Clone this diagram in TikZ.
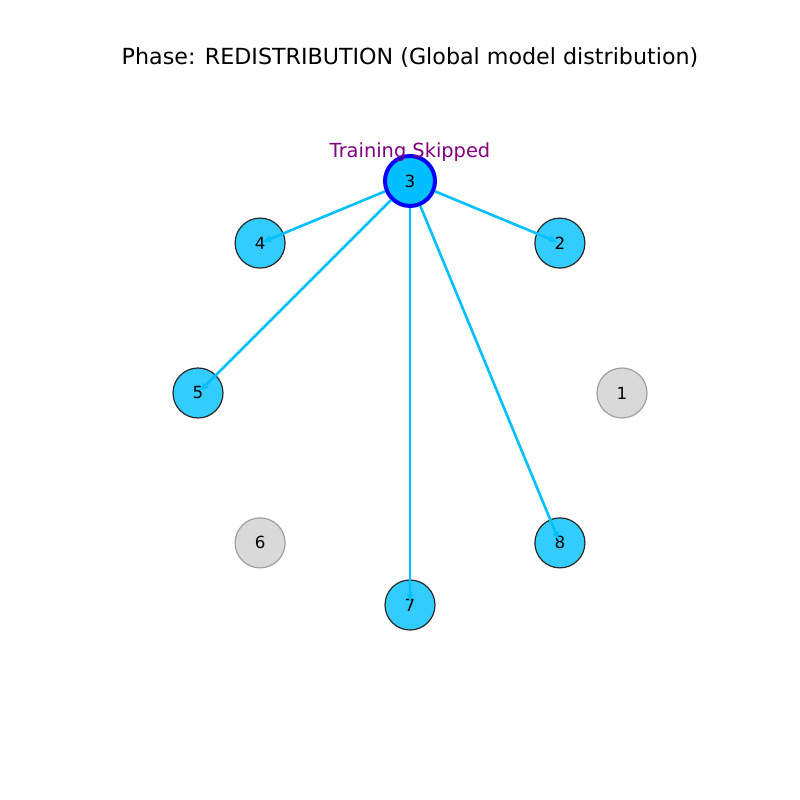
\documentclass[tikz,border=0pt]{standalone}
\usepackage{fontspec}
\setmainfont{DejaVu Sans}
\usetikzlibrary{arrows.meta}

\definecolor{skyedge}{RGB}{0,191,255}
\definecolor{peerfill}{RGB}{51,204,255}
\definecolor{peerline}{RGB}{40,40,40}
\definecolor{idlefill}{RGB}{217,217,217}
\definecolor{idleline}{RGB}{160,160,160}
\definecolor{notecolor}{RGB}{128,0,128}

\tikzset{
	peer/.style={shape=circle,minimum size=50,inner sep=0,fill=peerfill,draw=peerline,line width=1.2,font=\fontsize{16.7}{20}\selectfont},
	offline/.style={peer,fill=idlefill,draw=idleline},
	aggregator/.style={peer,fill=skyedge,draw=blue,line width=4},
	push/.style={draw=skyedge,line width=2.6,shorten >=3,-{Triangle[length=8,width=6]}}
}

\begin{document}
\begin{tikzpicture}[x=1pt,y=1pt]
		\useasboundingbox (0,0) rectangle (800,800);
		
		% title of the phase
		\node (title) at (410,742) {\fontsize{22.2}{26}\selectfont Phase: REDISTRIBUTION (Global model distribution)};
		
		% clients placed round a circle
		\begin{scope}[shift={(410,407)}]
			\foreach \n/\st in {1/offline,2/peer,3/aggregator,4/peer,5/peer,6/offline,7/peer,8/peer} {
				\node[\st] (n\n) at ({(\n-1)*45}:212) {\n};
			}
		\end{scope}
		
		% global model sent from client 3
		\foreach \t in {2,4,5,7,8} {
			\draw[push] (n3) -- (n\t.center);
		}
		
		% status of the aggregator
		\node[text=notecolor,font=\fontsize{19.4}{23}\selectfont] (skipnote) at (410,648) {Training Skipped};
\end{tikzpicture}
\end{document}
